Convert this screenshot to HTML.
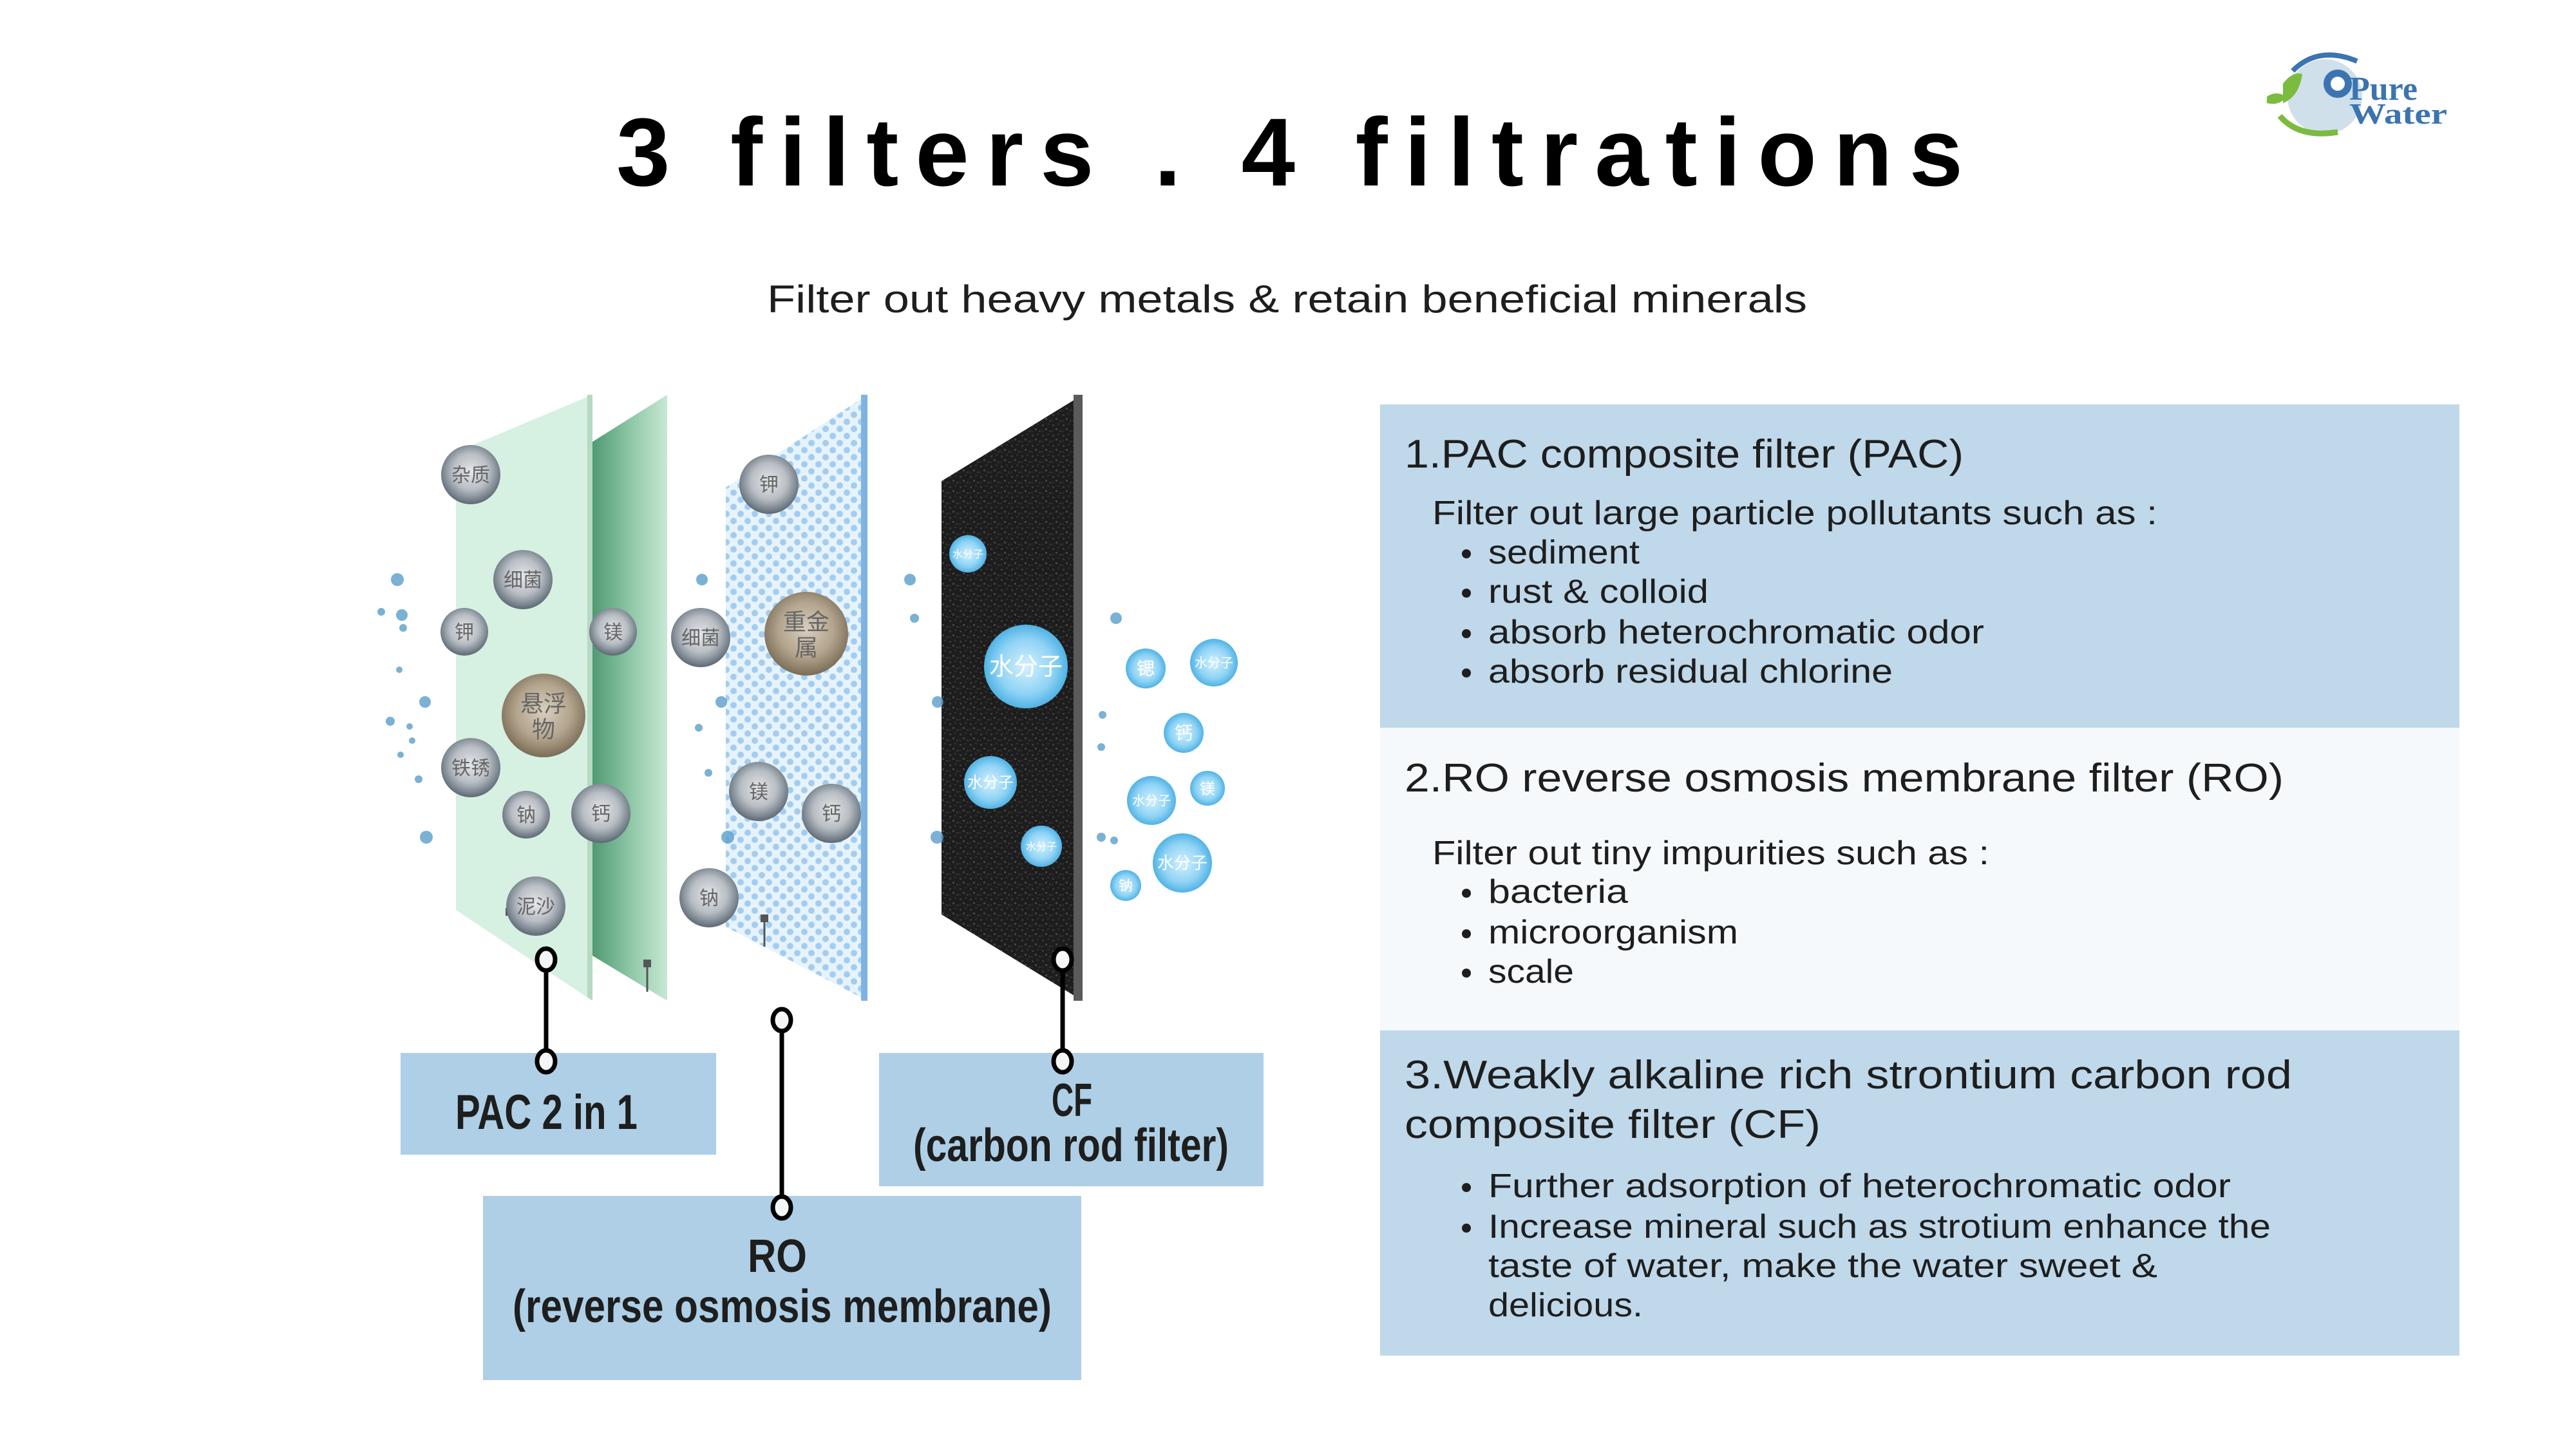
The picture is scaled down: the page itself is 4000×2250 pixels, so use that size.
<!DOCTYPE html>
<html><head><meta charset="utf-8"><style>
html,body{margin:0;padding:0;background:#fff;width:4000px;height:2250px;overflow:hidden}
svg{display:block}
.t{font-family:"Liberation Sans","Noto Sans CJK SC",sans-serif;fill:#1e1e1e}
.cj{font-family:"Noto Sans CJK SC","WenQuanYi Zen Hei",sans-serif;text-anchor:middle}
</style></head><body>
<svg width="4000" height="2250" viewBox="0 0 4000 2250" xmlns="http://www.w3.org/2000/svg">
<defs>
<radialGradient id="gg" cx="0.5" cy="0.45" r="0.55"><stop offset="0" stop-color="#e4e7ea"/><stop offset="0.55" stop-color="#b9bec4"/><stop offset="0.85" stop-color="#7d8791"/><stop offset="1" stop-color="#5d6874"/></radialGradient>
<radialGradient id="bg" cx="0.5" cy="0.45" r="0.55"><stop offset="0" stop-color="#d9cfbf"/><stop offset="0.6" stop-color="#b2a48c"/><stop offset="1" stop-color="#7b6c56"/></radialGradient>
<radialGradient id="wb" cx="0.5" cy="0.5" r="0.55"><stop offset="0" stop-color="#d5f1fd"/><stop offset="0.6" stop-color="#8fd3f5"/><stop offset="1" stop-color="#3ea9e0"/></radialGradient>
<linearGradient id="g2" x1="0" x2="1" y1="0" y2="0"><stop offset="0" stop-color="#4f9a72"/><stop offset="0.5" stop-color="#8ec6a6"/><stop offset="1" stop-color="#c7e8d5"/></linearGradient>
<pattern id="dots" width="22" height="22" patternUnits="userSpaceOnUse"><rect width="22" height="22" fill="#e6f3fc"/><circle cx="6" cy="6" r="5" fill="#a3cdf0"/><circle cx="17" cy="17" r="5" fill="#a3cdf0"/></pattern>
<pattern id="noise" width="16" height="16" patternUnits="userSpaceOnUse"><rect width="16" height="16" fill="#1d1d1d"/><rect x="2" y="3" width="3" height="3" fill="#3a3a3a"/><rect x="10" y="1" width="3" height="3" fill="#2e2e2e"/><rect x="7" y="9" width="3" height="3" fill="#444"/><rect x="13" y="12" width="3" height="3" fill="#333"/><rect x="1" y="12" width="3" height="3" fill="#2a2a2a"/></pattern>
</defs>

<text class="t" x="957" y="288" font-size="150" font-weight="bold" textLength="2091" lengthAdjust="spacing" style="fill:#000">3 filters . 4 filtrations</text>
<text class="t" x="1191" y="485" font-size="60" textLength="1615" lengthAdjust="spacingAndGlyphs">Filter out heavy metals &amp; retain beneficial minerals</text>

<g>
<circle cx="3610" cy="150" r="58" fill="#cfe0ea"/>
<path d="M3560 110 Q3600 70 3660 95" stroke="#3b74b0" stroke-width="8" fill="none"/>
<circle cx="3630" cy="130" r="22" fill="#3b74b0"/><circle cx="3630" cy="130" r="11" fill="#fff"/>
<path d="M3540 180 Q3570 215 3630 205" stroke="#7bbb3e" stroke-width="9" fill="none"/>
<path d="M3545 130 Q3560 110 3575 115 Q3570 150 3545 160 Z" fill="#7bbb3e"/>
<path d="M3520 150 Q3535 140 3550 150 Q3540 165 3520 160 Z" fill="#7bbb3e"/>
<text x="3648" y="155" font-family="Liberation Serif,serif" font-weight="bold" font-size="52" fill="#3b74b0">Pure</text>
<text x="3648" y="192" font-family="Liberation Serif,serif" font-weight="bold" font-size="46" fill="#3b74b0" textLength="152" lengthAdjust="spacingAndGlyphs">Water</text>
</g>

<polygon points="708,702 920,613 920,1554 708,1413" fill="#d6f0e2"/>
<polygon points="912,613 920,613 920,1554 912,1548" fill="#b5d9c3"/>
<polygon points="920,686 1036,613 1036,1554 920,1484" fill="url(#g2)"/>
<polygon points="1127,757 1347,613 1347,1554 1127,1439" fill="url(#dots)"/>
<rect x="1337" y="613" width="10" height="941" fill="#7eb3e2"/>
<polygon points="1462,747 1681,613 1681,1554 1462,1420" fill="url(#noise)"/>
<rect x="1667" y="613" width="14" height="941" fill="#5a5a5a"/>
<line x1="1005" y1="1490" x2="1005" y2="1540" stroke="#555" stroke-width="3"/><rect x="999" y="1490" width="12" height="12" fill="#555"/>
<line x1="1187" y1="1420" x2="1187" y2="1470" stroke="#555" stroke-width="3"/><rect x="1181" y="1420" width="12" height="12" fill="#555"/>
<rect x="785" y="1410" width="10" height="12" fill="#555"/>

<g fill="#5a9ecb" opacity="0.8">
<circle cx="617" cy="900" r="10"/><circle cx="592" cy="950" r="6"/><circle cx="624" cy="955" r="9"/><circle cx="626" cy="975" r="6"/><circle cx="620" cy="1040" r="5"/><circle cx="660" cy="1090" r="9"/><circle cx="606" cy="1120" r="7"/><circle cx="636" cy="1128" r="5"/><circle cx="640" cy="1150" r="5"/><circle cx="622" cy="1172" r="5"/><circle cx="650" cy="1210" r="6"/><circle cx="662" cy="1300" r="10"/>
<circle cx="1090" cy="900" r="9"/><circle cx="1120" cy="1090" r="9"/><circle cx="1085" cy="1130" r="6"/><circle cx="1100" cy="1200" r="6"/><circle cx="1130" cy="1300" r="10"/>
<circle cx="1413" cy="900" r="9"/><circle cx="1420" cy="960" r="7"/><circle cx="1456" cy="1090" r="9"/><circle cx="1455" cy="1300" r="10"/>
<circle cx="1733" cy="960" r="9"/><circle cx="1712" cy="1110" r="6"/><circle cx="1710" cy="1160" r="6"/><circle cx="1710" cy="1300" r="7"/><circle cx="1730" cy="1305" r="6"/>
</g>

<g font-size="30" fill="#555">
<circle cx="731" cy="737" r="46" fill="url(#gg)"/><text class="cj" x="731" y="748" fill="#666">杂质</text>
<circle cx="812" cy="900" r="46" fill="url(#gg)"/><text class="cj" x="812" y="911" fill="#666">细菌</text>
<circle cx="721" cy="981" r="37" fill="url(#gg)"/><text class="cj" x="721" y="992" fill="#666">钾</text>
<circle cx="952" cy="981" r="37" fill="url(#gg)"/><text class="cj" x="952" y="992" fill="#666">镁</text>
<circle cx="844" cy="1111" r="65" fill="url(#bg)"/><text class="cj" x="844" y="1105" fill="#666" font-size="36">悬浮</text><text class="cj" x="844" y="1145" fill="#666" font-size="36">物</text>
<circle cx="731" cy="1192" r="46" fill="url(#gg)"/><text class="cj" x="731" y="1203" fill="#666">铁锈</text>
<circle cx="817" cy="1265" r="37" fill="url(#gg)"/><text class="cj" x="817" y="1276" fill="#666">钠</text>
<circle cx="933" cy="1263" r="46" fill="url(#gg)"/><text class="cj" x="933" y="1274" fill="#666">钙</text>
<circle cx="832" cy="1407" r="46" fill="url(#gg)"/><text class="cj" x="832" y="1418" fill="#666">泥沙</text>
<circle cx="1194" cy="752" r="46" fill="url(#gg)"/><text class="cj" x="1194" y="763" fill="#666">钾</text>
<circle cx="1088" cy="990" r="46" fill="url(#gg)"/><text class="cj" x="1088" y="1001" fill="#666">细菌</text>
<circle cx="1252" cy="984" r="65" fill="url(#bg)"/><text class="cj" x="1252" y="978" fill="#666" font-size="36">重金</text><text class="cj" x="1252" y="1018" fill="#666" font-size="36">属</text>
<circle cx="1178" cy="1229" r="46" fill="url(#gg)"/><text class="cj" x="1178" y="1240" fill="#666">镁</text>
<circle cx="1291" cy="1263" r="46" fill="url(#gg)"/><text class="cj" x="1291" y="1274" fill="#666">钙</text>
<circle cx="1101" cy="1394" r="46" fill="url(#gg)"/><text class="cj" x="1101" y="1405" fill="#666">钠</text>
</g>

<g fill="#fff">
<circle cx="1503" cy="860" r="29" fill="url(#wb)"/><text class="cj" x="1503" y="866" font-size="16" fill="#fff">水分子</text>
<circle cx="1593" cy="1035" r="65" fill="url(#wb)"/><text class="cj" x="1593" y="1048" font-size="38" fill="#fff">水分子</text>
<circle cx="1538" cy="1215" r="41" fill="url(#wb)"/><text class="cj" x="1538" y="1223" font-size="24" fill="#fff">水分子</text>
<circle cx="1617" cy="1314" r="32" fill="url(#wb)"/><text class="cj" x="1617" y="1320" font-size="16" fill="#fff">水分子</text>
<circle cx="1779" cy="1038" r="31" fill="url(#wb)"/><text class="cj" x="1779" y="1048" font-size="28" fill="#fff">锶</text>
<circle cx="1885" cy="1029" r="37" fill="url(#wb)"/><text class="cj" x="1885" y="1036" font-size="20" fill="#fff">水分子</text>
<circle cx="1838" cy="1138" r="31" fill="url(#wb)"/><text class="cj" x="1838" y="1148" font-size="28" fill="#fff">钙</text>
<circle cx="1788" cy="1243" r="38" fill="url(#wb)"/><text class="cj" x="1788" y="1250" font-size="20" fill="#fff">水分子</text>
<circle cx="1875" cy="1224" r="27" fill="url(#wb)"/><text class="cj" x="1875" y="1233" font-size="24" fill="#fff">镁</text>
<circle cx="1836" cy="1340" r="46" fill="url(#wb)"/><text class="cj" x="1836" y="1349" font-size="26" fill="#fff">水分子</text>
<circle cx="1748" cy="1375" r="24" fill="url(#wb)"/><text class="cj" x="1748" y="1383" font-size="22" fill="#fff">钠</text>
</g>

<rect x="622" y="1635" width="490" height="158" fill="#aecfe6"/>
<rect x="1365" y="1635" width="597" height="207" fill="#aecfe6"/>
<rect x="750" y="1857" width="929" height="286" fill="#aecfe6"/>
<g font-weight="bold">
<text class="t" x="707" y="1753" font-size="76" font-weight="bold" textLength="283" lengthAdjust="spacingAndGlyphs">PAC 2 in 1</text>
<text class="t" x="1633" y="1733" font-size="72" font-weight="bold" textLength="63" lengthAdjust="spacingAndGlyphs">CF</text>
<text class="t" x="1418" y="1803" font-size="72" font-weight="bold" textLength="490" lengthAdjust="spacingAndGlyphs">(carbon rod filter)</text>
<text class="t" x="1161" y="1975" font-size="72" font-weight="bold" textLength="92" lengthAdjust="spacingAndGlyphs">RO</text>
<text class="t" x="796" y="2053" font-size="72" font-weight="bold" textLength="837" lengthAdjust="spacingAndGlyphs">(reverse osmosis membrane)</text>
</g>

<g stroke="#000" stroke-width="7" fill="#f4f6f5">
<line x1="848" y1="1490" x2="848" y2="1648"/>
<line x1="1214" y1="1584" x2="1214" y2="1875"/>
<line x1="1650" y1="1490" x2="1650" y2="1648"/>
<ellipse cx="848" cy="1490" rx="14" ry="17"/><ellipse cx="848" cy="1648" rx="14" ry="17"/>
<ellipse cx="1214" cy="1584" rx="14" ry="17"/><ellipse cx="1214" cy="1875" rx="14" ry="17"/>
<ellipse cx="1650" cy="1490" rx="14" ry="17"/><ellipse cx="1650" cy="1648" rx="14" ry="17"/>
</g>

<rect x="2143" y="628" width="1676" height="502" fill="#bfd8ea"/>
<rect x="2143" y="1130" width="1676" height="470" fill="#f6f9fb"/>
<rect x="2143" y="1600" width="1676" height="505" fill="#bfd8ea"/>
<g class="t">
<text class="t" x="2181" y="726" font-size="62" textLength="868" lengthAdjust="spacingAndGlyphs">1.PAC composite filter (PAC)</text>
<text class="t" x="2224" y="814" font-size="52" textLength="1126" lengthAdjust="spacingAndGlyphs">Filter out large particle pollutants such as :</text>
<circle cx="2277" cy="860" r="7" fill="#1e1e1e"/><text class="t" x="2311" y="875" font-size="52" textLength="235" lengthAdjust="spacingAndGlyphs">sediment</text>
<circle cx="2277" cy="921" r="7" fill="#1e1e1e"/><text class="t" x="2311" y="936" font-size="52" textLength="342" lengthAdjust="spacingAndGlyphs">rust &amp; colloid</text>
<circle cx="2277" cy="984" r="7" fill="#1e1e1e"/><text class="t" x="2311" y="999" font-size="52" textLength="770" lengthAdjust="spacingAndGlyphs">absorb heterochromatic odor</text>
<circle cx="2277" cy="1045" r="7" fill="#1e1e1e"/><text class="t" x="2311" y="1060" font-size="52" textLength="628" lengthAdjust="spacingAndGlyphs">absorb residual chlorine</text>
<text class="t" x="2181" y="1229" font-size="62" textLength="1365" lengthAdjust="spacingAndGlyphs">2.RO reverse osmosis membrane filter (RO)</text>
<text class="t" x="2224" y="1342" font-size="52" textLength="865" lengthAdjust="spacingAndGlyphs">Filter out tiny impurities such as :</text>
<circle cx="2277" cy="1387" r="7" fill="#1e1e1e"/><text class="t" x="2311" y="1402" font-size="52" textLength="217" lengthAdjust="spacingAndGlyphs">bacteria</text>
<circle cx="2277" cy="1450" r="7" fill="#1e1e1e"/><text class="t" x="2311" y="1465" font-size="52" textLength="388" lengthAdjust="spacingAndGlyphs">microorganism</text>
<circle cx="2277" cy="1511" r="7" fill="#1e1e1e"/><text class="t" x="2311" y="1526" font-size="52" textLength="133" lengthAdjust="spacingAndGlyphs">scale</text>
<text class="t" x="2181" y="1690" font-size="62" textLength="1378" lengthAdjust="spacingAndGlyphs">3.Weakly alkaline rich strontium carbon rod</text>
<text class="t" x="2181" y="1767" font-size="62" textLength="646" lengthAdjust="spacingAndGlyphs">composite filter (CF)</text>
<circle cx="2277" cy="1844" r="7" fill="#1e1e1e"/><text class="t" x="2311" y="1859" font-size="52" textLength="1153" lengthAdjust="spacingAndGlyphs">Further adsorption of heterochromatic odor</text>
<circle cx="2277" cy="1907" r="7" fill="#1e1e1e"/><text class="t" x="2311" y="1922" font-size="52" textLength="1215" lengthAdjust="spacingAndGlyphs">Increase mineral such as strotium enhance the</text>
<text class="t" x="2311" y="1983" font-size="52" textLength="1039" lengthAdjust="spacingAndGlyphs">taste of water, make the water sweet &amp;</text>
<text class="t" x="2311" y="2044" font-size="52" textLength="240" lengthAdjust="spacingAndGlyphs">delicious.</text>
</g>
</svg>
</body></html>
